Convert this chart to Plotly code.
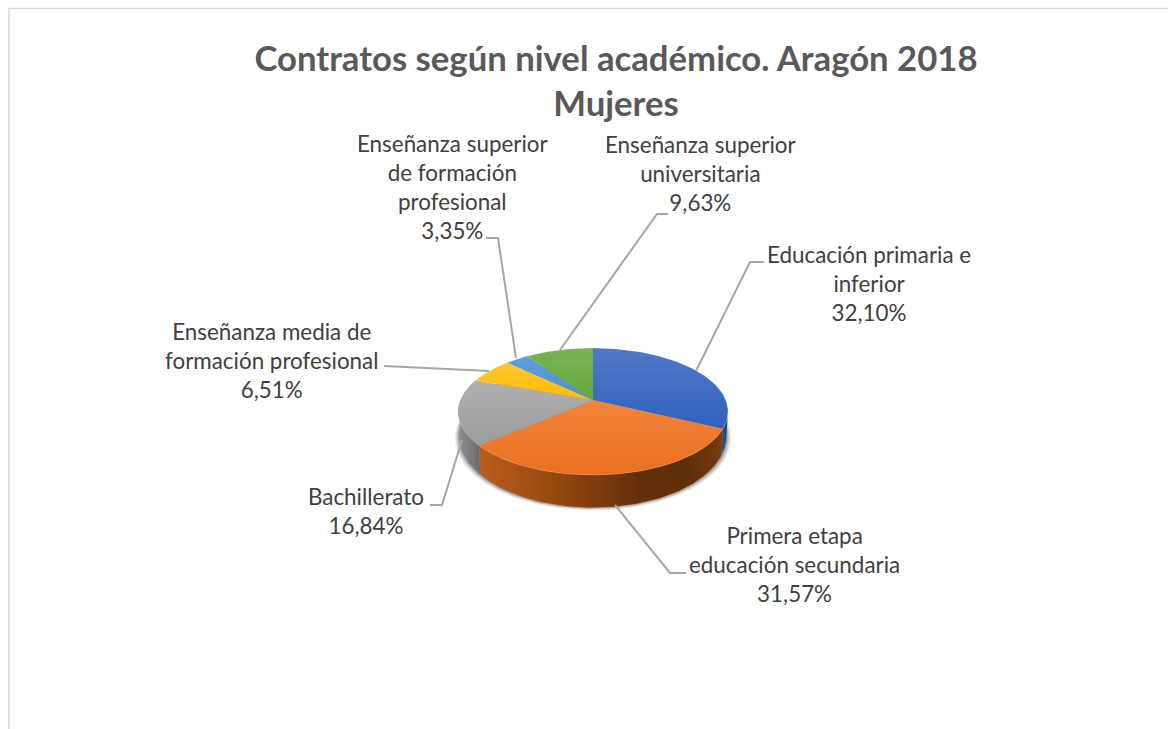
import numpy as np
import plotly.graph_objects as go

categories = ["Educación primaria e inferior", "Primera etapa educación secundaria", "Bachillerato",
              "Enseñanza media de formación profesional", "Enseñanza superior de formación profesional",
              "Enseñanza superior universitaria"]
values = [32.10, 31.57, 16.84, 6.51, 3.35, 9.63]
label_lines = [["Educación primaria e", "inferior"], ["Primera etapa", "educación secundaria"], ["Bachillerato"],
               ["Enseñanza media de", "formación profesional"], ["Enseñanza superior", "de formación", "profesional"],
               ["Enseñanza superior", "universitaria"]]
top_colors = [("#3162be", "#5079c8"), ("#ea6f1f", "#f2853c"), ("#9c9c9c", "#b0b0b0"),
              ("#fdbb00", "#ffc834"), ("#4b90d2", "#5f9fd8"), ("#66a83c", "#7ab254")]
title_text = "Contratos según nivel académico. Aragón 2018<br>Mujeres"

CX, CY, R, S, K = 593.0, 400.0, 132.8, 61.4, 0.181

def project(theta_deg, down=False):
    t = np.radians(theta_deg)
    u, v = np.sin(t), np.cos(t)
    w = 1 + K * v
    scale = 0.988 if down else 1.0
    x = CX + R * u / w * scale
    y = CY - S * v / w
    if down:
        y = y + 22 - 10.5 * v
    return x, y

fig = go.Figure()

# soft shadow under the pie
ang = np.linspace(0, 360, 241)
for grow, a in [(5.0, 0.05), (4.0, 0.07), (3.0, 0.09), (2.0, 0.12), (1.0, 0.15)]:
    bx, by = project(ang, True)
    fig.add_trace(go.Scatter(x=CX + (bx - CX) * (1 + grow / 135), y=by + grow * 0.6, mode="lines",
                             fill="toself", fillcolor=f"rgba(0,0,0,{a})", line=dict(width=0),
                             hoverinfo="skip", showlegend=False))

cum = np.concatenate([[0], np.cumsum(values)]) / sum(values) * 360

# side walls
walls = [
    (0, 100.5, None, [[0, "#2c5396"], [1, "#1f3f78"]]),
    (2, None, 270.0, [[0, "#8e8e8e"], [0.6, "#7b7b7b"], [1, "#6a6a6a"]]),
    (1, None, None, [[0, "#bb5e1c"], [0.3, "#97490f"], [0.65, "#653009"], [0.85, "#5e2d08"], [1, "#7a3d0f"]]),
]
for idx, a0, a1, scale in walls:
    s0 = cum[idx] if a0 is None else a0
    s1 = cum[idx + 1] if a1 is None else a1
    th = np.linspace(s0, s1, 80)
    tx, ty = project(th)
    bx, by = project(th[::-1], True)
    fig.add_trace(go.Scatter(x=np.r_[tx, bx], y=np.r_[ty, by], mode="lines", fill="toself",
                             fillgradient=dict(type="horizontal", colorscale=scale),
                             line=dict(width=0), hoverinfo="skip", showlegend=False))

# top faces
for i, cat in enumerate(categories):
    th = np.linspace(cum[i], cum[i + 1], 90)
    tx, ty = project(th)
    c0, c1 = top_colors[i]
    fig.add_trace(go.Scatter(x=np.r_[CX, tx, CX], y=np.r_[CY, ty, CY], mode="lines", fill="toself", name=cat,
                             fillgradient=dict(type="vertical", colorscale=[[0, c0], [1, c1]]),
                             line=dict(width=0), hoverinfo="skip", showlegend=False))
    fig.add_trace(go.Scatter(x=tx, y=ty, mode="lines", line=dict(color="rgba(255,255,255,0.22)", width=1),
                             hoverinfo="skip", showlegend=False))

# leader lines, one per label
leaders = [
    ([696, 750, 764], [371, 262, 262]),
    ([615, 670, 686], [505, 573, 573]),
    ([462, 442, 430], [440, 505, 505]),
    ([489, 384], [371, 366]),
    ([516, 498, 486], [358, 238, 238]),
    ([560, 657, 668], [350, 214, 214]),
]
for lx, ly in leaders:
    fig.add_trace(go.Scatter(x=lx, y=ly, mode="lines", line=dict(color="#a6a6a6", width=2),
                             hoverinfo="skip", showlegend=False))

label_pos = [(869, 283), (794, 564), (366, 511), (272, 360), (452, 187), (700, 173)]
annotations = []
for i, (px, py) in enumerate(label_pos):
    pct = f"{values[i]:.2f}".replace(".", ",") + "%"
    annotations.append(dict(x=px, y=py, xref="x", yref="y", showarrow=False, align="center",
                            text="<br>".join(label_lines[i] + [pct]),
                            font=dict(family="Lato", size=22.4, color="#404040")))

frame = dict(type="path", path="M 9 729 L 9 8.5 L 1168 8.5", line=dict(color="#d9d9d9", width=1.5), layer="below")

fig.update_layout(
    width=1168, height=729, margin=dict(l=0, r=0, t=0, b=0), paper_bgcolor="white", plot_bgcolor="white",
    showlegend=False, annotations=annotations, shapes=[frame],
    title=dict(text=title_text, x=616 / 1168, xanchor="center", y=1 - 71 / 729, yanchor="middle",
               font=dict(family="Lato", size=34.7, color="#595959", weight="bold")),
    xaxis=dict(range=[0, 1168], visible=False, fixedrange=True, domain=[0, 1]),
    yaxis=dict(range=[729, 0], visible=False, fixedrange=True, domain=[0, 1]),
)
fig.write_html("out.html", post_script="document.body.style.margin='0';document.documentElement.style.overflow='hidden';",
               config=dict(displayModeBar=False))
